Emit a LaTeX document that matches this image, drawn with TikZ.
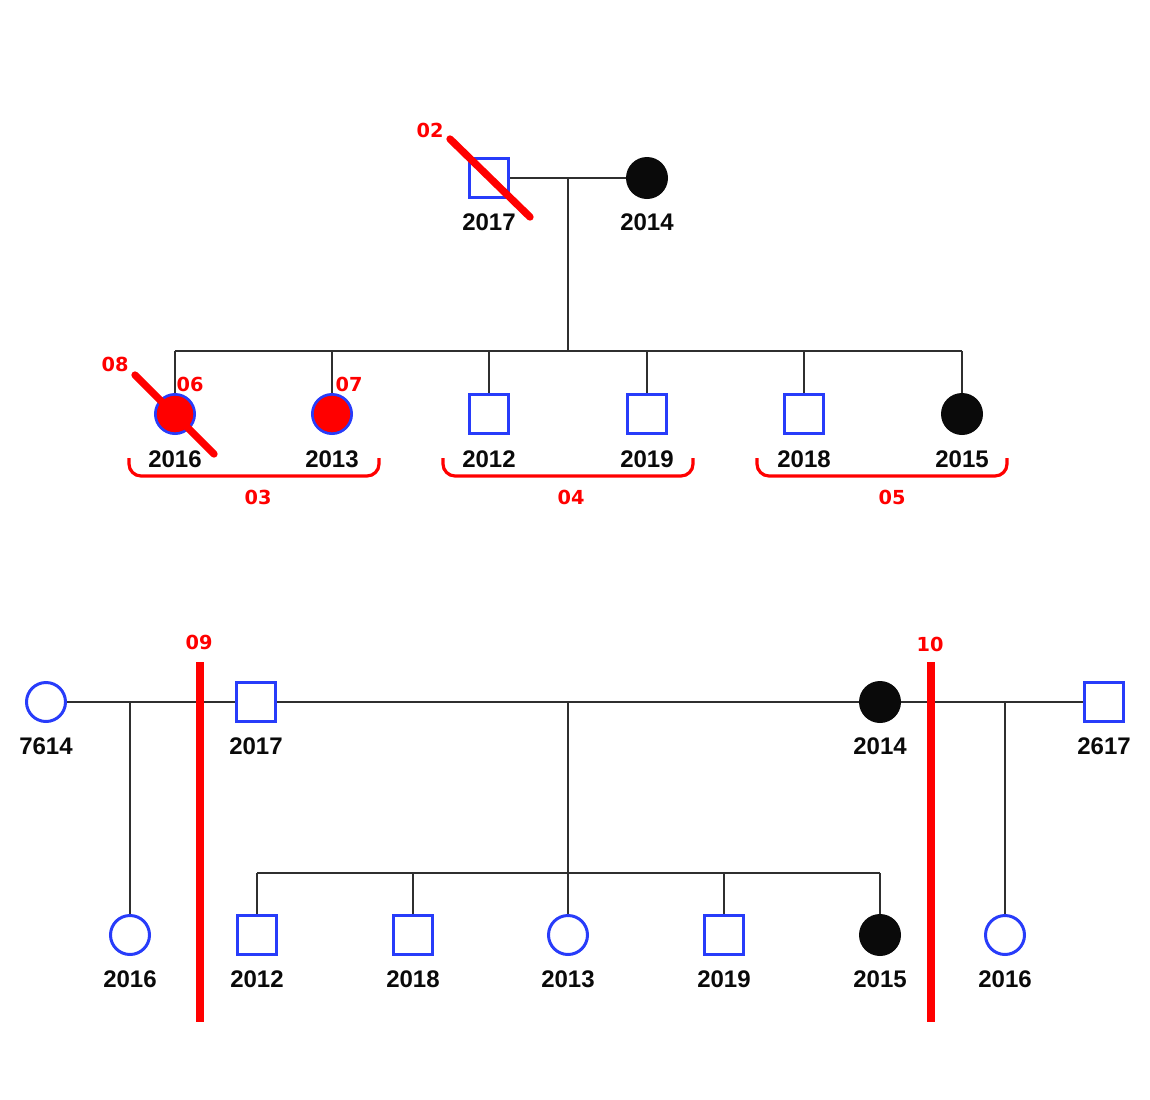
\documentclass[tikz,border=0pt]{standalone}
\usepackage{fontspec}
\setmainfont{Liberation Sans}
\newfontfamily\tagfont{DejaVu Sans}
\usetikzlibrary{positioning}
\definecolor{pedblue}{RGB}{40,60,250}
\definecolor{pedred}{RGB}{255,0,0}
\definecolor{pedblack}{RGB}{10,10,10}
\tikzset{
  male/.style={rectangle, draw=pedblue, fill=white, line width=2.25pt, minimum size=29.25pt, inner sep=0pt},
  female/.style={circle, draw=pedblue, fill=white, line width=2.25pt, minimum size=29.25pt, inner sep=0pt},
  femalered/.style={circle, draw=pedblue, fill=pedred, line width=2pt, minimum size=29.5pt, inner sep=0pt},
  femaleaff/.style={circle, fill=pedblack, minimum size=31.5pt, inner sep=0pt},
  year/.style={inner sep=0pt, text=pedblack, font=\bfseries\fontsize{18pt}{18pt}\selectfont},
  tag/.style={inner sep=0pt, text=pedred, font=\tagfont\bfseries\fontsize{14.5pt}{14.5pt}\selectfont},
  line/.style={draw=pedblack!85, line width=1.3pt},
  slash/.style={draw=pedred, line width=5.5pt, line cap=round},
  cut/.style={draw=pedred, line width=6pt},
  brace/.style={draw=pedred, line width=2.4pt, rounded corners=9pt}
}

\begin{document}
\begin{tikzpicture}[x=0.75pt,y=-0.75pt]
            \useasboundingbox (0,0) rectangle (1150,1100);

            % Top family: parents
            \node[male] (m2017) at (489,178) {};
            \node[femaleaff] (f2014) at (647,178) {};
            \node[year] (l2017) at (489,222) {2017};
            \node[year] (l2014) at (647,222) {2014};
            \draw[line] (m2017) -- (f2014);
            \coordinate (u0) at (568,178);
            \coordinate (s0) at (568,351);
            \draw[line] (u0) -- (s0);

            % Top family: children
            \node[femalered] (c2016) at (175,414) {};
            \node[femalered] (c2013) at (332,414) {};
            \node[male] (c2012) at (489,414) {};
            \node[male] (c2019) at (647,414) {};
            \node[male] (c2018) at (804,414) {};
            \node[femaleaff] (c2015) at (962,414) {};
            \draw[line] (c2016 |- s0) -- (c2015 |- s0);
            \foreach \c in {c2016,c2013,c2012,c2019,c2018,c2015}
                \draw[line] (\c |- s0) -- (\c);
            \node[year] (l2016) at (175,459) {2016};
            \node[year] (l2013) at (332,459) {2013};
            \node[year] (l2012) at (489,459) {2012};
            \node[year] (l2019) at (647,459) {2019};
            \node[year] (l2018) at (804,459) {2018};
            \node[year] (l2015) at (962,459) {2015};

            % Top family: marks
            \draw[slash] (450,139) -- (530,217);
            \draw[slash] (135,375) -- (214,454);
            \node[tag] (t02) at (430,130) {02};
            \node[tag] (t08) at (115,364) {08};
            \node[tag] (t06) at (190,384) {06};
            \node[tag] (t07) at (349,384) {07};

            % Top family: groups
            \draw[brace] (129,458) |- (379,476) -- (379,458);
            \draw[brace] (443,458) |- (693,476) -- (693,458);
            \draw[brace] (757,458) |- (1007,476) -- (1007,458);
            \node[tag] (t03) at (258,497) {03};
            \node[tag] (t04) at (571,497) {04};
            \node[tag] (t05) at (892,497) {05};

            % Bottom family: couples
            \node[female] (f7614) at (46,702) {};
            \node[male] (m2017b) at (256,702) {};
            \node[femaleaff] (f2014b) at (880,702) {};
            \node[male] (m2617) at (1104,702) {};
            \node[year] (l7614) at (46,746) {7614};
            \node[year] (l2017b) at (256,746) {2017};
            \node[year] (l2014b) at (880,746) {2014};
            \node[year] (l2617) at (1104,746) {2617};
            \draw[line] (f7614) -- (m2017b);
            \draw[line] (m2017b) -- (f2014b);
            \draw[line] (f2014b) -- (m2617);

            % Bottom family: children
            \node[female] (d2016a) at (130,935) {};
            \node[male] (d2012) at (257,935) {};
            \node[male] (d2018) at (413,935) {};
            \node[female] (d2013) at (568,935) {};
            \node[male] (d2019) at (724,935) {};
            \node[femaleaff] (d2015) at (880,935) {};
            \node[female] (d2016b) at (1005,935) {};
            \coordinate (u1) at (130,702);
            \coordinate (u2) at (568,702);
            \coordinate (u3) at (1005,702);
            \coordinate (s2) at (568,873);
            \draw[line] (u1) -- (d2016a);
            \draw[line] (u3) -- (d2016b);
            \draw[line] (u2) -- (s2);
            \draw[line] (d2012 |- s2) -- (d2015 |- s2);
            \foreach \c in {d2012,d2018,d2013,d2019,d2015}
                \draw[line] (\c |- s2) -- (\c);
            \node[year] (l2016a) at (130,979) {2016};
            \node[year] (l2012b) at (257,979) {2012};
            \node[year] (l2018b) at (413,979) {2018};
            \node[year] (l2013b) at (568,979) {2013};
            \node[year] (l2019b) at (724,979) {2019};
            \node[year] (l2015b) at (880,979) {2015};
            \node[year] (l2016b) at (1005,979) {2016};

            % Bottom family: cuts
            \draw[cut] (200,662) -- (200,1022);
            \draw[cut] (931,662) -- (931,1022);
            \node[tag] (t09) at (199,642) {09};
            \node[tag] (t10) at (930,644) {10};
\end{tikzpicture}
\end{document}
